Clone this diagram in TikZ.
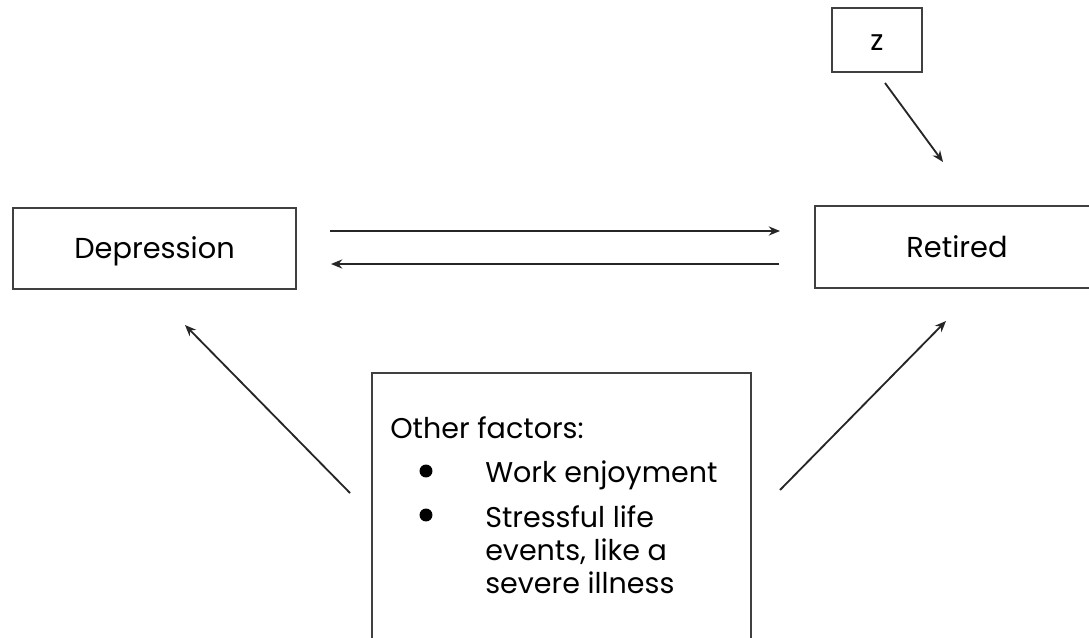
\documentclass[tikz,border=0pt]{standalone}
\usepackage{fontspec}
\setmainfont{Poppins}
\usetikzlibrary{arrows.meta}
\tikzset{
  box/.style={draw=black!75, line width=1.3pt, inner sep=0pt, text height=14.5pt, text depth=0pt,
    font=\fontsize{20.5}{24}\selectfont},
  arr/.style={-{Stealth[length=8pt, width=6.5pt]}, draw=black!85, line width=1.3pt},
  item/.style={anchor=base west, inner sep=0pt, align=left, font=\fontsize{20.3}{23.4}\selectfont}
}
\begin{document}
\begin{tikzpicture}[x=0.025cm, y=-0.025cm]
  \useasboundingbox (0,0) rectangle (1089,637);
  % the three variables
  \node[box, minimum width=2.25cm, minimum height=1.6cm] (Z) at (877,40) {z};
  \node[box, minimum width=7.075cm, minimum height=2.025cm] (Dep) at (154.5,248.5) {Depression};
  \node[box, minimum width=7.1cm, minimum height=2.05cm] (Ret) at (957,247) {Retired};
  % other factors, box runs off the bottom
  \node[box, minimum width=9.475cm, minimum height=8.675cm] (Fac) at (561.5,546.5) {};
  \node[item] (Oth) at (390,438) {Other factors:};
  \node[item] (Work) at (485,482) {Work enjoyment};
  \node[item] (Str) at (485,593) {Stressful life\\events, like a\\severe illness};
  \fill (426,471) circle (4.6pt);
  \fill (426,515) circle (4.6pt);
  % arrow ends
  \coordinate (zs) at (885,83);   \coordinate (ze) at (943,162);
  \coordinate (ts) at (330,231);  \coordinate (te) at (780,231);
  \coordinate (bs) at (779,264);  \coordinate (be) at (331,264);
  \coordinate (ls) at (350,493);  \coordinate (le) at (185,325);
  \coordinate (rs) at (780,490);  \coordinate (re) at (946,321);
  \draw[arr] (zs) -- (ze);
  \draw[arr] (ts) -- (te);
  \draw[arr] (bs) -- (be);
  \draw[arr] (ls) -- (le);
  \draw[arr] (rs) -- (re);
\end{tikzpicture}
\end{document}
